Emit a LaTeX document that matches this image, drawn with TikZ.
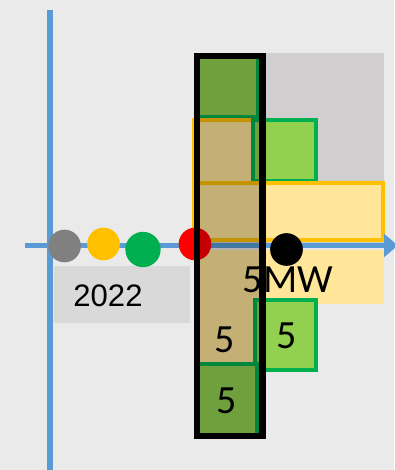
\documentclass[tikz,border=0pt]{standalone}
\usepackage{fontspec}
\setmainfont{Carlito}
\newfontfamily\yearfont{Liberation Sans}
\usetikzlibrary{arrows.meta}
\definecolor{cBack}{HTML}{EAEAEA}
\definecolor{cPanel}{HTML}{D0CECE}
\definecolor{cLabel}{HTML}{D9D9D9}
\definecolor{cAxis}{HTML}{5B9BD5}
\definecolor{cGreen}{HTML}{92D050}
\definecolor{cGreenLine}{HTML}{00B050}
\definecolor{cYellow}{HTML}{FFE699}
\definecolor{cYellowLine}{HTML}{FFC000}
\definecolor{cDotGrey}{HTML}{808080}
\tikzset{
  gbox/.style={fill=cGreen, draw=cGreenLine, line width=2.6pt},
  ybox/.style={fill=cYellow, draw=cYellowLine, line width=2.8pt},
  axis/.style={draw=cAxis, line width=3.8pt},
  dot/.style={circle, inner sep=0pt, minimum size=24.5pt},
  big/.style={font=\fontsize{30}{30}\selectfont, inner sep=0pt, text=black},
  yearlab/.style={font=\yearfont\fontsize{23.3}{24}\selectfont, inner sep=0pt, text=black},
}
\begin{document}
\begin{tikzpicture}[x=0.75pt,y=-0.75pt]
\useasboundingbox (0,0) rectangle (394,470);
\fill[cBack] (0,0) rectangle (394,470);

% ================================================== panel and blocks
\fill[cPanel] (194,53) rectangle (384,244);
\draw[gbox] (198,56) rectangle (258,117);
\draw[ybox] (194,120) rectangle (258,183);
\draw[gbox] (253,120) rectangle (316,181);
\draw[ybox] (194,183) rectangle (383,240);
\fill[cYellow] (197,250) rectangle (384,304);
\fill[cYellow] (197,304) rectangle (258,363);
\draw[gbox] (255,300) rectangle (316,370);
\draw[gbox] (198,364) rectangle (257,436);

% ================================================== axes
\coordinate (xstart) at (25,245.5);
\coordinate (xend) at (398,245.5);
\coordinate (ytop) at (50,10);
\coordinate (ybot) at (50,472);
\draw[axis] (ytop) -- (ybot);
\draw[axis, -{Triangle[length=10.5pt, width=17pt]}] (xstart) -- (xend);

% ================================================== year label
\fill[cLabel] (54,266) rectangle (190,323);
\node[yearlab] (year) at (108,295.5) {2022};

% ================================================== dots
\node[dot, fill=cDotGrey] (dgrey) at (64.5,246) {};
\node[dot, fill=cYellowLine] (dyellow) at (103.5,244) {};
\node[dot, fill=cGreenLine, minimum size=26.5pt] (dgreen) at (143,249.5) {};
\node[dot, fill=red] (dred) at (195,244) {};
\node[dot, fill=black] (dblack) at (286.5,249.5) {};

% ================================================== frame
\draw[line width=4.6pt, draw=black, fill=black, fill opacity=0.23] (197,56) rectangle (262.5,436);

% ================================================== values
\node[big] (mw) at (288,280) {5MW};
\node[big] (vmid) at (225,339.5) {5};
\node[big] (vright) at (286.5,336) {5};
\node[big] (vlow) at (227,401) {5};

\end{tikzpicture}
\end{document}
